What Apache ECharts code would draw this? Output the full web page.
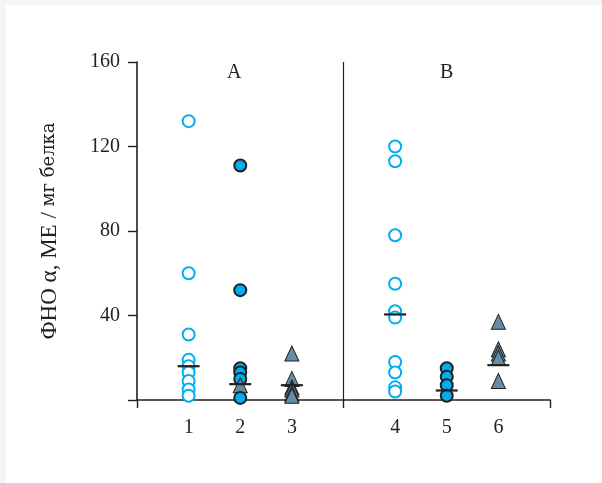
<!DOCTYPE html>
<html>
<head>
<meta charset="utf-8">
<script src="https://cdn.jsdelivr.net/npm/echarts@6/dist/echarts.min.js"></script>
<style>
  html, body { margin: 0; padding: 0; background: #f5f5f5; }
  #chart { position: absolute; left: 6px; top: 5px; width: 596px; height: 478px; background: #ffffff; }
</style>
</head>
<body>
<div id="chart"></div>
<script>
// Group labels along the x axis and their positions on the value axis
var categories = ['1', '2', '3', '4', '5', '6'];
var positions = [1, 2, 3, 5, 6, 7];
var panelLabels = ['А', 'В'];

// TNF-alpha values per group (IU / mg protein)
var group1 = [132, 60, 31, 19, 16, 13, 9, 5, 2];       // open circles
var group2 = [111, 52, 15, 13, 10];                    // filled circles
var group2Low = [1];                                   // lowest filled circle, drawn over the triangle
var group2Tri = [7];                                   // triangle in group 2
var group3 = [22, 10, 6, 5, 3, 2];                     // triangles
var group4 = [120, 113, 78, 55, 42, 39, 18, 13, 6, 4]; // open circles
var group5 = [15, 11, 7, 2];                           // filled circles
var group6 = [37, 24, 22, 20, 9];                      // triangles
var medians = [16, 7.5, 7, 40.5, 4.5, 16.5];

var yTicks = [40, 80, 120, 160];

var ink = '#231f20';
var cyan = '#00aeef';
var slate = '#628fa7';
var serif = '"Liberation Serif", "DejaVu Serif", serif';
var wideSerif = '"DejaVu Serif", "Liberation Serif", serif';

function pts(pos, vals) {
  return vals.map(function (v) { return [pos, v]; });
}

var openCircle = {
  type: 'scatter', symbol: 'circle', symbolSize: 12,
  itemStyle: { color: '#ffffff', borderColor: cyan, borderWidth: 2, opacity: 1 }
};
var filledCircle = {
  type: 'scatter', symbol: 'circle', symbolSize: 12,
  itemStyle: { color: cyan, borderColor: ink, borderWidth: 2, opacity: 1 }
};
var triangle = {
  type: 'scatter', symbol: 'triangle', symbolSize: [14, 15],
  itemStyle: { color: slate, borderColor: ink, borderWidth: 1, opacity: 1 }
};

function withData(base, data, z) {
  return Object.assign({}, base, { data: data, z: z, silent: true, animation: false });
}

var chart = echarts.init(document.getElementById('chart'));

chart.setOption({
  backgroundColor: '#ffffff',
  animation: false,
  grid: { left: 131, right: 52, top: 57, bottom: 83, containLabel: false },
  xAxis: {
    type: 'value', min: 0, max: 8,
    axisLine: { onZero: true, lineStyle: { color: ink, width: 1.6 } },
    axisTick: { show: true, inside: false, length: 8, customValues: [0, 4, 8], lineStyle: { color: ink, width: 1.4 } },
    axisLabel: {
      customValues: positions, margin: 18, color: ink, fontFamily: serif, fontSize: 20,
      formatter: function (v) { var i = positions.indexOf(v); return i >= 0 ? categories[i] : ''; }
    },
    splitLine: { show: false }
  },
  yAxis: {
    type: 'value', min: 0, max: 160, interval: 40,
    axisLine: { show: true, onZero: false, lineStyle: { color: ink, width: 1.6 } },
    axisTick: { show: true, inside: false, length: 9, lineStyle: { color: ink, width: 1.4 } },
    axisLabel: { customValues: yTicks, margin: 17, color: ink, fontFamily: serif, fontSize: 20 },
    splitLine: { show: false },
    name: '{a|ФНО α, МЕ /}{b| мг белка}',
    nameLocation: 'middle', nameRotate: 90, nameGap: 76,
    nameTextStyle: {
      rich: {
        a: { fontFamily: serif, fontSize: 23, color: ink },
        b: { fontFamily: wideSerif, fontSize: 18, color: ink }
      }
    }
  },
  series: [
    Object.assign(withData(openCircle, pts(positions[0], group1), 3), {
      markLine: {
        silent: true, symbol: 'none', label: { show: false },
        lineStyle: { color: ink, width: 1.2, type: 'solid' },
        data: [[{ coord: [4, 0] }, { coord: [4, 160] }]]
      }
    }),
    withData(filledCircle, pts(positions[1], group2), 3),
    withData(triangle, pts(positions[1], group2Tri), 4),
    withData(filledCircle, pts(positions[1], group2Low), 5),
    withData(triangle, pts(positions[2], group3), 3),
    withData(openCircle, pts(positions[3], group4), 3),
    withData(filledCircle, pts(positions[4], group5), 3),
    withData(triangle, pts(positions[5], group6), 3),
    {
      type: 'scatter', silent: true, animation: false, z: 6,
      symbol: 'rect', symbolSize: [22, 2.2],
      itemStyle: { color: ink, opacity: 1 },
      data: medians.map(function (m, i) { return [positions[i], m]; })
    }
  ],
  graphic: [
    { type: 'text', left: 221, top: 58, style: { text: panelLabels[0], font: '20px ' + serif, fill: ink } },
    { type: 'text', left: 434, top: 58, style: { text: panelLabels[1], font: '20px ' + serif, fill: ink } }
  ]
});
</script>
</body>
</html>
